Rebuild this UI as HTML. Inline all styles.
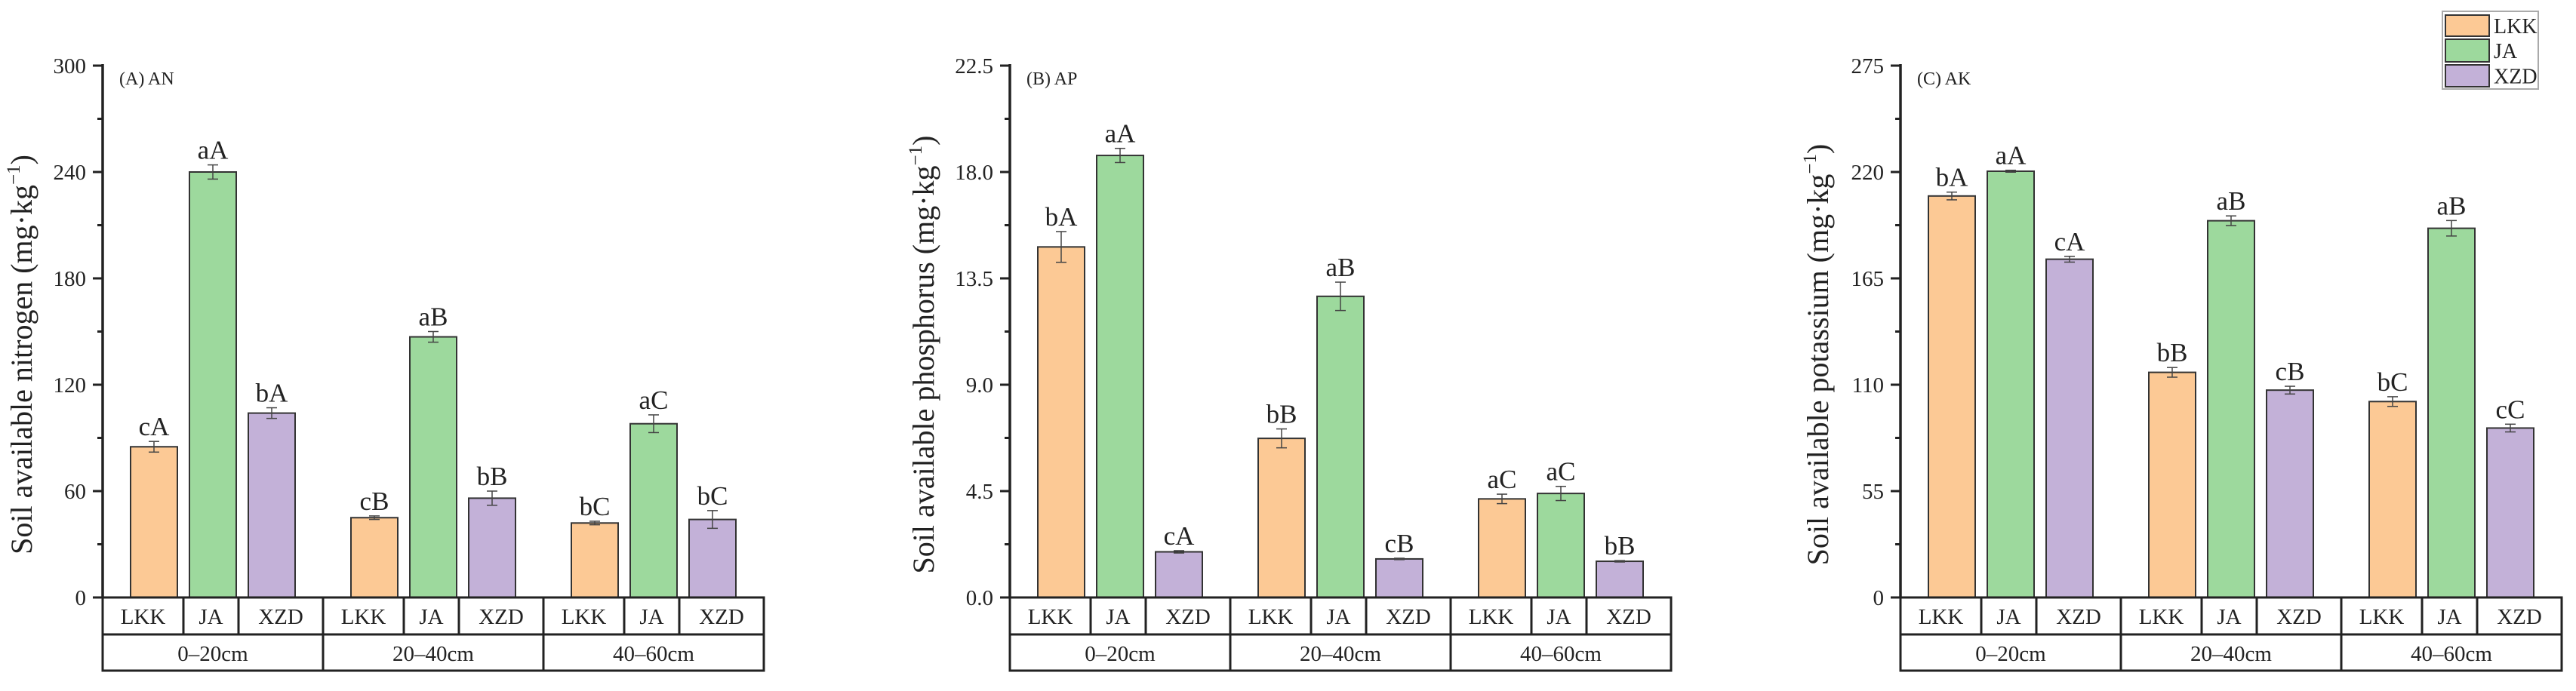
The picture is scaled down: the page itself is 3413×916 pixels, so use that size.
<!DOCTYPE html>
<html><head><meta charset="utf-8"><style>
html,body{margin:0;padding:0;background:#fff;}
svg{display:block;font-family:"Liberation Serif",serif;}
</style></head><body>
<svg id="chart" width="3413" height="916" viewBox="0 0 3413 916" xmlns="http://www.w3.org/2000/svg"></svg>
<script>
const groups = ["0–20cm","20–40cm","40–60cm"];
const series = ["LKK","JA","XZD"];
const colors = ["#FCC995","#9DD99D","#C3B1D8"];
// Panel A: available nitrogen
const anValues = [[85,240,104],[45,147,56],[42,98,44]];
const anErrors = [[3,4,3],[1,3,4],[1,5,5]];
const anLetters = [["cA","aA","bA"],["cB","aB","bB"],["bC","aC","bC"]];
const anTicks = ["0","60","120","180","240","300"];
// Panel B: available phosphorus
const apValues = [[14.83,18.7,1.93],[6.73,12.74,1.63],[4.17,4.4,1.53]];
const apErrors = [[0.65,0.3,0.05],[0.4,0.6,0.03],[0.2,0.3,0.03]];
const apLetters = [["bA","aA","cA"],["bB","aB","cB"],["aC","aC","bB"]];
const apTicks = ["0.0","4.5","9.0","13.5","18.0","22.5"];
// Panel C: available potassium
const akValues = [[207.6,220.4,174.9],[116.4,194.8,107.2],[101.3,190.9,87.6]];
const akErrors = [[2,0.5,1.5],[2.5,2.5,2],[2.5,4,2]];
const akLetters = [["bA","aA","cA"],["bB","aB","cB"],["bC","aB","cC"]];
const akTicks = ["0","55","110","165","220","275"];

const NS="http://www.w3.org/2000/svg";
const svg=document.getElementById('chart');
function mk(tag,attrs,parent,text){const e=document.createElementNS(NS,tag);for(const k in attrs)e.setAttribute(k,attrs[k]);if(text!==undefined)e.textContent=text;(parent||svg).appendChild(e);return e;}

const Y0=792, YTOP=87, W=876;
function panel(x0,title,ytitle,titleOff,vals,errs,letters,ticks,id){
  const g=mk('g',{});
  
  
  const ymax=parseFloat(ticks[ticks.length-1]);
  const ys=v=>Y0-(v/ymax)*(Y0-YTOP);
  for(let i=0;i<ticks.length;i++){
    const v=parseFloat(ticks[i]);const y=ys(v);
    mk('line',{x1:x0-13,x2:x0,y1:y,y2:y,stroke:'#222','stroke-width':3},g);
    const t=mk('text',{x:x0-22,y:y+10,'text-anchor':'end','font-size':29,fill:'#222'},g,ticks[i]);
    
    
    if(i<ticks.length-1){const ym=ys(v+(parseFloat(ticks[1])-parseFloat(ticks[0]))/2);
      mk('line',{x1:x0-7,x2:x0,y1:ym,y2:ym,stroke:'#222','stroke-width':3},g);}
  }
  mk('line',{x1:x0,x2:x0,y1:YTOP-2,y2:Y0,stroke:'#222','stroke-width':3.5},g);
  const yt=mk('text',{x:0,y:0,'text-anchor':'middle','font-size':40,fill:'#222',transform:`translate(${x0-titleOff},470) rotate(-90)`},g);
  
  
  yt.innerHTML=ytitle+' (mg·kg<tspan dy="-16" font-size="25">−1</tspan><tspan dy="16">)</tspan>';
  const pt=mk('text',{x:x0+22,y:112,'font-size':24,fill:'#222'},g,title);
  
  
  const gw=W/3;
  for(let gi=0;gi<3;gi++){
    const gx=x0+gi*gw, gc=gx+gw/2;
    for(let si=0;si<3;si++){
      const cx=gc+(si-1)*78, v=vals[gi][si], e=errs[gi][si];
      const r=mk('rect',{x:cx-31,y:ys(v),width:62,height:Y0-ys(v),fill:colors[si],stroke:'#333','stroke-width':2},g);
      
      
      const yt1=ys(v+e), yb=ys(v-e);
      mk('line',{x1:cx,x2:cx,y1:yt1,y2:yb,stroke:'#444','stroke-width':1.5},g);
      mk('line',{x1:cx-7,x2:cx+7,y1:yt1,y2:yt1,stroke:'#444','stroke-width':1.5},g);
      mk('line',{x1:cx-7,x2:cx+7,y1:yb,y2:yb,stroke:'#444','stroke-width':1.5},g);
      const lt=mk('text',{x:cx,y:yt1-8,'text-anchor':'middle','font-size':35,fill:'#222'},g,letters[gi][si]);
      
      
    }
    const d1=gx+107, d2=gx+180;
    const cells=[[gx,d1],[d1,d2],[d2,gx+gw]];
    for(let si=0;si<3;si++){
      const ct=mk('text',{x:(cells[si][0]+cells[si][1])/2,y:827,'text-anchor':'middle','font-size':29,fill:'#222'},g,series[si]);
      
      
    }
    mk('line',{x1:d1,x2:d1,y1:Y0,y2:841,stroke:'#222','stroke-width':3},g);
    mk('line',{x1:d2,x2:d2,y1:Y0,y2:841,stroke:'#222','stroke-width':3},g);
    if(gi>0) mk('line',{x1:gx,x2:gx,y1:Y0,y2:889,stroke:'#222','stroke-width':3},g);
    const gt=mk('text',{x:gc,y:876,'text-anchor':'middle','font-size':29,fill:'#222'},g,groups[gi]);
    
    
  }
  mk('rect',{x:x0,y:Y0,width:W,height:97,fill:'none',stroke:'#222','stroke-width':3},g);
  mk('line',{x1:x0,x2:x0+W,y1:841,y2:841,stroke:'#222','stroke-width':3},g);
}
panel(136,'(A) AN','Soil available nitrogen',94,anValues,anErrors,anLetters,anTicks,'an');
panel(1338,'(B) AP','Soil available phosphorus',101,apValues,apErrors,apLetters,apTicks,'ap');
panel(2518,'(C) AK','Soil available potassium',96,akValues,akErrors,akLetters,akTicks,'ak');

const lg=mk('g',{});


mk('rect',{x:3236,y:15,width:127,height:103,fill:'#fff',stroke:'#aaa','stroke-width':2},lg);
const rows=[[20,48],[52,82],[86,115]];
for(let i=0;i<3;i++){
  const sw=mk('rect',{x:3240,y:rows[i][0],width:58,height:rows[i][1]-rows[i][0],fill:colors[i],stroke:'#333','stroke-width':2},lg);
  
  
  const t=mk('text',{x:3304,y:(rows[i][0]+rows[i][1])/2+10,'font-size':28,fill:'#222'},lg,series[i]);
  
  
}
</script>
</body></html>
